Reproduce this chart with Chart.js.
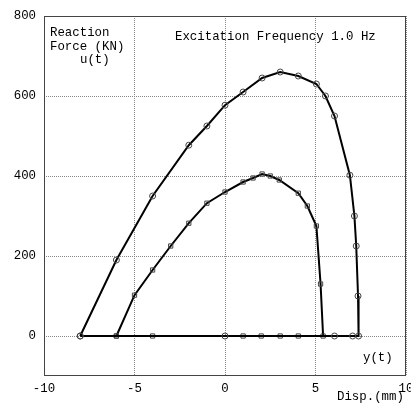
<!DOCTYPE html>
<html>
<head>
<meta charset="utf-8">
<script src="https://cdn.jsdelivr.net/npm/chart.js@4"></script>
<style>
  html, body { margin: 0; padding: 0; background: #fff; overflow: hidden; }
  #wrap { width: 411px; height: 408px; overflow: hidden; }
</style>
</head>
<body>
<div id="wrap"><canvas id="chart" width="430" height="408"></canvas></div>
<script>
// outer loop (circles)
const outerX = [-8, -6, -4, -2, -1, 0, 1, 2.05, 3.05, 4.05, 5.05, 5.55, 6.05, 6.9, 7.15, 7.25, 7.35, 7.38, 7.05, 6.05, 0, -8];
const outerY = [0, 190, 350, 477, 525, 577, 610, 645, 660, 650, 630, 600, 550, 402, 300, 225, 100, 0, 0, 0, 0, 0];
// inner loop (squares)
const innerX = [-6, -5, -4, -3, -2, -1, 0, 1, 1.55, 2.05, 2.5, 3, 4.05, 4.55, 5.05, 5.28, 5.42, 4.05, 3.05, 2, 1, -4, -6];
const innerY = [0, 102, 165, 225, 282, 332, 360, 385, 395, 405, 400, 390, 357, 325, 275, 130, 0, 0, 0, 0, 0, 0, 0];

const xTicks = [-10, -5, 0, 5, 10];
const yTicks = [0, 200, 400, 600, 800];

const FONT = "Liberation Mono";

function pts(xs, ys) {
  return xs.map((x, i) => ({ x: x, y: ys[i] }));
}

const extras = {
  id: "extras",
  afterDraw(chart) {
    const ctx = chart.ctx;
    const a = chart.chartArea;
    ctx.save();
    // plot frame
    ctx.strokeStyle = "#444";
    ctx.lineWidth = 1;
    ctx.strokeRect(a.left + 0.5, a.top + 0.5, a.right - a.left - 1, a.bottom - a.top - 1);
    // texts
    ctx.fillStyle = "#000";
    ctx.font = "12.4px '" + FONT + "'";
    ctx.textBaseline = "middle";
    ctx.textAlign = "left";
    ctx.fillText("Reaction", a.left + 6, 33);
    ctx.fillText("Force (KN)", a.left + 6, 47);
    ctx.fillText("u(t)", a.left + 36, 60);
    ctx.fillText("Excitation Frequency 1.0 Hz", a.left + 131, 37);
    ctx.fillText("y(t)", a.left + 319, 358);
    ctx.fillText("Disp.(mm)", a.left + 293, 397);
    ctx.restore();
  }
};

new Chart(document.getElementById("chart"), {
  type: "scatter",
  data: {
    datasets: [
      {
        data: pts(outerX, outerY),
        showLine: true,
        borderColor: "#000",
        borderWidth: 2,
        tension: 0,
        pointStyle: "circle",
        pointRadius: 3,
        pointBorderWidth: 1,
        pointBorderColor: "#444",
        pointBackgroundColor: "rgba(255,255,255,0)"
      },
      {
        data: pts(innerX, innerY),
        showLine: true,
        borderColor: "#000",
        borderWidth: 2,
        tension: 0,
        pointStyle: "rect",
        pointRadius: 3,
        pointBorderWidth: 1,
        pointBorderColor: "#444",
        pointBackgroundColor: "rgba(255,255,255,0)"
      }
    ]
  },
  options: {
    responsive: false,
    animation: false,
    devicePixelRatio: 1,
    layout: { padding: { left: 0, top: 16, right: 24, bottom: 0 } },
    plugins: {
      legend: { display: false },
      tooltip: { enabled: false }
    },
    scales: {
      x: {
        type: "linear",
        min: -10,
        max: 10,
        afterBuildTicks: (s) => { s.ticks = xTicks.map(v => ({ value: v })); },
        afterFit: (s) => { s.height = 32; },
        grid: { color: "#888", lineWidth: 1, drawTicks: false },
        border: { display: false, dash: [1, 1] },
        ticks: { color: "#000", padding: 5, maxRotation: 0, font: { family: FONT, size: 12.4 } }
      },
      y: {
        type: "linear",
        min: -100,
        max: 800,
        afterBuildTicks: (s) => { s.ticks = yTicks.map(v => ({ value: v })); },
        afterFit: (s) => { s.width = 44; },
        grid: { color: "#888", lineWidth: 1, drawTicks: false },
        border: { display: false, dash: [1, 1] },
        ticks: { color: "#000", padding: 8, font: { family: FONT, size: 12.4 } }
      }
    }
  },
  plugins: [extras]
});
</script>
</body>
</html>
